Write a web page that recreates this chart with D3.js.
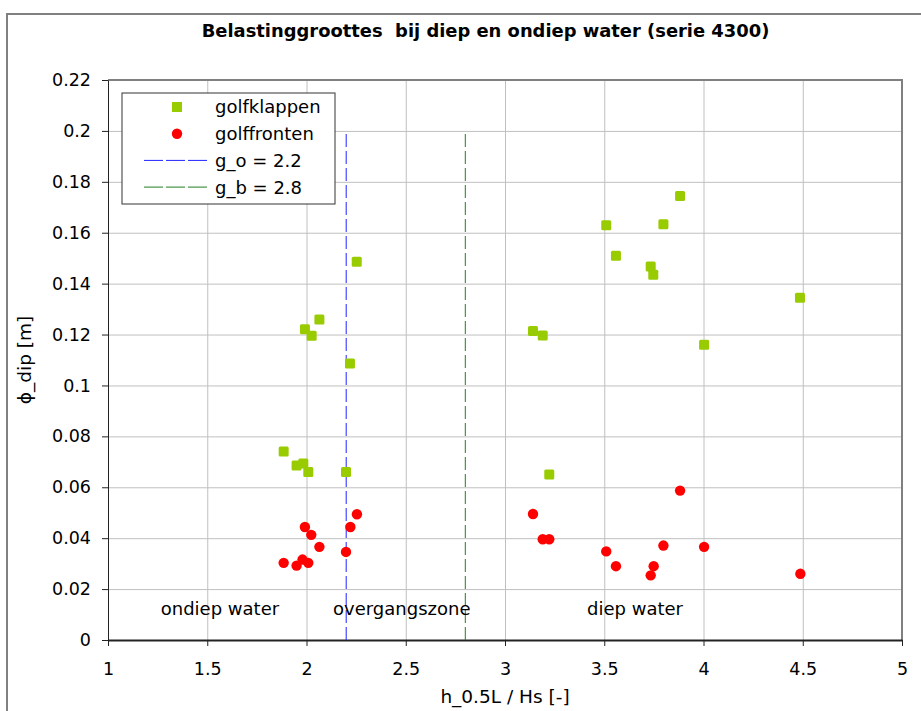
<!DOCTYPE html>
<html>
<head>
<meta charset="utf-8">
<script src="https://cdn.jsdelivr.net/npm/d3@7"></script>
<style>
  body { margin: 0; background: #fff; }
  svg { font-family: "DejaVu Sans", Arial, sans-serif; }
  .grid line { stroke: #c0c0c0; stroke-width: 1; }
  .grid .domain { display: none; }
  .axis text { font-size: 17.5px; fill: #000; font-family: "DejaVu Sans", Arial, sans-serif; }
  .axis line, .axis path { stroke: #222; }
</style>
</head>
<body>
<svg id="chart"></svg>
<script>
// golfklappen (squares)
const klapX = [1.885, 1.95, 1.984, 2.009, 2.199, 2.253, 2.065, 1.992, 2.026, 2.219,
               3.882, 3.798, 3.51, 3.559, 3.734, 3.747, 4.486, 3.141, 3.19, 4.003, 3.223];
const klapY = [0.0741, 0.0686, 0.0693, 0.066, 0.066, 0.1486, 0.1259, 0.1221, 0.1195, 0.1086,
               0.1744, 0.1633, 0.1629, 0.151, 0.1467, 0.1435, 0.1345, 0.1214, 0.1196, 0.116, 0.065];
// golffronten (circles)
const frontX = [2.254, 1.992, 2.221, 2.024, 2.065, 2.199, 1.885, 1.95, 1.98, 2.009,
                3.882, 3.141, 3.19, 3.223, 3.51, 3.798, 4.003, 3.559, 3.749, 3.734, 4.488];
const frontY = [0.0494, 0.0444, 0.0444, 0.0413, 0.0366, 0.0346, 0.0303, 0.0292, 0.0316, 0.0303,
                0.0587, 0.0495, 0.0396, 0.0396, 0.0348, 0.0371, 0.0366, 0.029, 0.029, 0.0254, 0.026];

const limits = [{name: "g_o = 2.2", x: 2.2, color: "#2020ff"},
                {name: "g_b = 2.8", x: 2.8, color: "#208020"}];
const zones = [{label: "ondiep water", x: 1.564}, {label: "overgangszone", x: 2.48}, {label: "diep water", x: 3.655}];

const xTicks = [1, 1.5, 2, 2.5, 3, 3.5, 4, 4.5, 5];
const yTicks = d3.range(0, 0.2201, 0.02);

const width = 921, height = 711;
const margin = {top: 80, right: 19, bottom: 71, left: 108};
const innerW = width - margin.left - margin.right;
const innerH = height - margin.top - margin.bottom;

const svg = d3.select("#chart").attr("width", width).attr("height", height);

// outer chart frame
svg.append("rect")
    .attr("x", 7).attr("y", 14).attr("width", 925).attr("height", 720)
    .attr("fill", "none").attr("stroke", "#808080").attr("stroke-width", 2);

svg.append("text")
    .attr("x", 485.5).attr("y", 37)
    .attr("text-anchor", "middle")
    .attr("font-weight", "bold").attr("font-size", 17.9)
    .style("white-space", "pre")
    .text("Belastinggroottes  bij diep en ondiep water (serie 4300)");

const chart = svg.append("g").attr("transform", `translate(${margin.left},${margin.top})`);

const x = d3.scaleLinear().domain([1, 5]).range([0, innerW]);
const y = d3.scaleLinear().domain([0, 0.22]).range([innerH, 0]);

// gridlines
chart.append("g").attr("class", "grid")
    .call(d3.axisLeft(y).tickValues(yTicks).tickSize(-innerW).tickFormat(""));
chart.append("g").attr("class", "grid")
    .attr("transform", `translate(0,${innerH})`)
    .call(d3.axisBottom(x).tickValues(xTicks).tickSize(-innerH).tickFormat(""));

// plot frame top/right
chart.append("path")
    .attr("d", `M0,0H${innerW}V${innerH}`)
    .attr("fill", "none").attr("stroke", "#808080").attr("stroke-width", 2);

// axes
chart.append("g").attr("class", "axis")
    .call(d3.axisLeft(y).tickValues(yTicks).tickSize(6).tickSizeOuter(0).tickPadding(11)
        .tickFormat(d => d3.format("~g")(+d.toFixed(2))));
const xAxis = chart.append("g").attr("class", "axis")
    .attr("transform", `translate(0,${innerH})`)
    .call(d3.axisBottom(x).tickValues(xTicks).tickSize(6).tickSizeOuter(0).tickPadding(17)
        .tickFormat(d3.format("~g")));
xAxis.select(".domain").attr("stroke-width", 2).attr("stroke", "#444");

// limit lines
chart.selectAll(".limit")
    .data(limits)
    .join("line")
    .attr("class", "limit")
    .attr("x1", d => x(d.x)).attr("x2", d => x(d.x))
    .attr("y1", y(0)).attr("y2", y(0.2))
    .attr("stroke", d => d.color).attr("stroke-width", 1)
    .attr("stroke-dasharray", "13,4");

// zone labels
chart.selectAll(".zone")
    .data(zones)
    .join("text")
    .attr("class", "zone")
    .attr("x", d => x(d.x)).attr("y", y(0.0098))
    .attr("text-anchor", "middle")
    .attr("font-size", 18)
    .text(d => d.label);

// points
const sq = 10;
chart.selectAll(".klap")
    .data(klapX.map((v, i) => [v, klapY[i]]))
    .join("rect")
    .attr("class", "klap")
    .attr("x", d => x(d[0]) - sq / 2).attr("y", d => y(d[1]) - sq / 2)
    .attr("width", sq).attr("height", sq).attr("rx", 1.5)
    .attr("fill", "#99cc00");

chart.selectAll(".front")
    .data(frontX.map((v, i) => [v, frontY[i]]))
    .join("circle")
    .attr("class", "front")
    .attr("cx", d => x(d[0])).attr("cy", d => y(d[1]))
    .attr("r", 5.2)
    .attr("fill", "#ff0000");

// axis titles
svg.append("text")
    .attr("x", 505).attr("y", 703)
    .attr("text-anchor", "middle").attr("font-size", 18.5)
    .text("h_0.5L / Hs [-]");
svg.append("text")
    .attr("transform", "translate(31,360) rotate(-90)")
    .attr("text-anchor", "middle").attr("font-size", 18.5)
    .text("ϕ_dip [m]");

// legend
const legend = svg.append("g").attr("transform", "translate(122,93)");
legend.append("rect")
    .attr("width", 213).attr("height", 111)
    .attr("fill", "#fff").attr("stroke", "#333").attr("stroke-width", 1);
const rows = [
    {type: "square", label: "golfklappen"},
    {type: "circle", label: "golffronten"},
    {type: "line", label: limits[0].name, color: limits[0].color},
    {type: "line", label: limits[1].name, color: limits[1].color}
];
const rowY = i => 14 + i * 26.7;
rows.forEach((r, i) => {
    const g = legend.append("g").attr("transform", `translate(0,${rowY(i)})`);
    if (r.type === "square") {
        g.append("rect").attr("x", 50).attr("y", -5).attr("width", sq).attr("height", sq).attr("fill", "#99cc00");
    } else if (r.type === "circle") {
        g.append("circle").attr("cx", 55).attr("r", 5.2).attr("fill", "#ff0000");
    } else {
        g.append("line").attr("x1", 22).attr("x2", 86)
            .attr("stroke", r.color).attr("stroke-dasharray", "19,3");
    }
    g.append("text").attr("x", 93).attr("dy", "0.36em").attr("font-size", 18).text(r.label);
});
</script>
</body>
</html>
